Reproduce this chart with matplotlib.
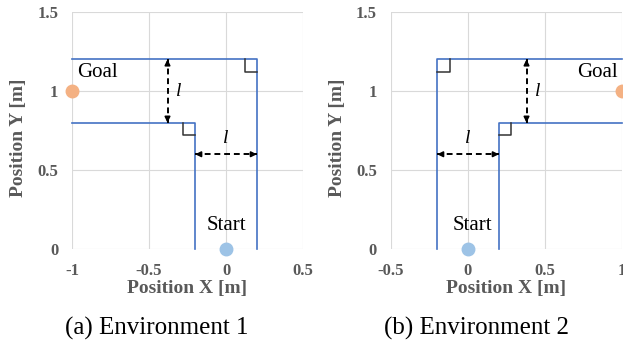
import numpy as np
import matplotlib.pyplot as plt

plt.rcParams['font.family'] = ['Liberation Serif', 'DejaVu Serif']

# corridor walls (x, y) for each environment
env1_outer_x = [0.2, 0.2, -1.0]
env1_outer_y = [0.0, 1.2, 1.2]
env1_inner_x = [-0.2, -0.2, -1.0]
env1_inner_y = [0.0, 0.8, 0.8]

env2_outer_x = [-0.2, -0.2, 1.0]
env2_outer_y = [0.0, 1.2, 1.2]
env2_inner_x = [0.2, 0.2, 1.0]
env2_inner_y = [0.0, 0.8, 0.8]

start1 = (0.0, 0.0)
goal1 = (-1.0, 1.0)
start2 = (0.0, 0.0)
goal2 = (1.0, 1.0)

xticks1 = [-1, -0.5, 0, 0.5]
xticks2 = [-0.5, 0, 0.5, 1]
yticks = [0, 0.5, 1, 1.5]

gray = '#595959'
blue = '#4472C4'
sq = 0.08


def dbl_arrow(ax, p0, p1):
    ax.plot([p0[0], p1[0]], [p0[1], p1[1]], ls='--', color='k', lw=1.4, dashes=(3, 2))
    for a, b in ((p0, p1), (p1, p0)):
        d = np.array(b) - np.array(a)
        tail = np.array(b) - d / np.linalg.norm(d) * 0.03
        ax.annotate('', xy=b, xytext=tail,
                    arrowprops=dict(arrowstyle='-|>', color='k', lw=1.2,
                                    mutation_scale=8, shrinkA=0, shrinkB=0))


def corner(ax, x, y, dx, dy):
    # right-angle mark inside a corner
    ax.plot([x + dx, x + dx, x], [y, y + dy, y + dy], color='#333333', lw=1.1)


def setup(ax, xlim, xticks):
    ax.set_xlim(*xlim)
    ax.set_ylim(0, 1.5)
    ax.set_xticks(xticks)
    ax.set_yticks(yticks)
    ax.set_xticklabels([f'{t:g}' for t in xticks])
    ax.set_yticklabels([f'{t:g}' for t in yticks])
    ax.grid(True, color='#D9D9D9', lw=0.8)
    ax.set_axisbelow(True)
    for s in ax.spines.values():
        s.set_visible(False)
    ax.tick_params(length=0, labelsize=12, labelcolor=gray, pad=10)
    for lab in ax.get_xticklabels() + ax.get_yticklabels():
        lab.set_fontweight('bold')
    ax.set_xlabel('Position X [m]', fontsize=14, fontweight='bold', color=gray, labelpad=1)
    ax.set_ylabel('Position Y [m]', fontsize=14, fontweight='bold', color=gray)
    ax.yaxis.set_label_coords(-0.195, 0.468)


fig = plt.figure(figsize=(6.23, 3.44), dpi=100)
ax1 = fig.add_axes([0.1156, 0.276, 0.3708, 0.689])
ax2 = fig.add_axes([0.6276, 0.276, 0.3708, 0.689])

setup(ax1, (-1, 0.5), xticks1)
setup(ax2, (-0.5, 1), xticks2)

# environment 1
ax1.plot(env1_outer_x, env1_outer_y, color=blue, lw=1.2, clip_on=False)
ax1.plot(env1_inner_x, env1_inner_y, color=blue, lw=1.2, clip_on=False)
corner(ax1, 0.2, 1.2, -sq, -sq)
corner(ax1, -0.2, 0.8, -sq, -sq)
dbl_arrow(ax1, (-0.38, 0.8), (-0.38, 1.2))
dbl_arrow(ax1, (-0.2, 0.6), (0.2, 0.6))
ax1.text(-0.31, 1.0, 'l', style='italic', fontsize=14, ha='center', va='center')
ax1.text(0.0, 0.7, 'l', style='italic', fontsize=14, ha='center', va='center')
ax1.plot(*goal1, 'o', ms=9, color='#F4B183', clip_on=False, zorder=5)
ax1.plot(*start1, 'o', ms=9, color='#9DC3E6', clip_on=False, zorder=5)
ax1.text(-0.97, 1.12, 'Goal', fontsize=15, ha='left', va='center')
ax1.text(0.0, 0.09, 'Start', fontsize=15, ha='center', va='bottom')

# environment 2
ax2.plot(env2_outer_x, env2_outer_y, color=blue, lw=1.2, clip_on=False)
ax2.plot(env2_inner_x, env2_inner_y, color=blue, lw=1.2, clip_on=False)
corner(ax2, -0.2, 1.2, sq, -sq)
corner(ax2, 0.2, 0.8, sq, -sq)
dbl_arrow(ax2, (0.38, 0.8), (0.38, 1.2))
dbl_arrow(ax2, (-0.2, 0.6), (0.2, 0.6))
ax2.text(0.455, 1.0, 'l', style='italic', fontsize=14, ha='center', va='center')
ax2.text(0.0, 0.7, 'l', style='italic', fontsize=14, ha='center', va='center')
ax2.plot(*goal2, 'o', ms=9, color='#F4B183', clip_on=False, zorder=5)
ax2.plot(*start2, 'o', ms=9, color='#9DC3E6', clip_on=False, zorder=5)
ax2.text(0.97, 1.12, 'Goal', fontsize=15, ha='right', va='center')
ax2.text(0.03, 0.09, 'Start', fontsize=15, ha='center', va='bottom')

fig.text(157 / 623, 1 - 328 / 344, '(a) Environment 1', fontsize=18, ha='center', va='center')
fig.text(477 / 623, 1 - 328 / 344, '(b) Environment 2', fontsize=18, ha='center', va='center')

fig.savefig('out.png', dpi=100)
